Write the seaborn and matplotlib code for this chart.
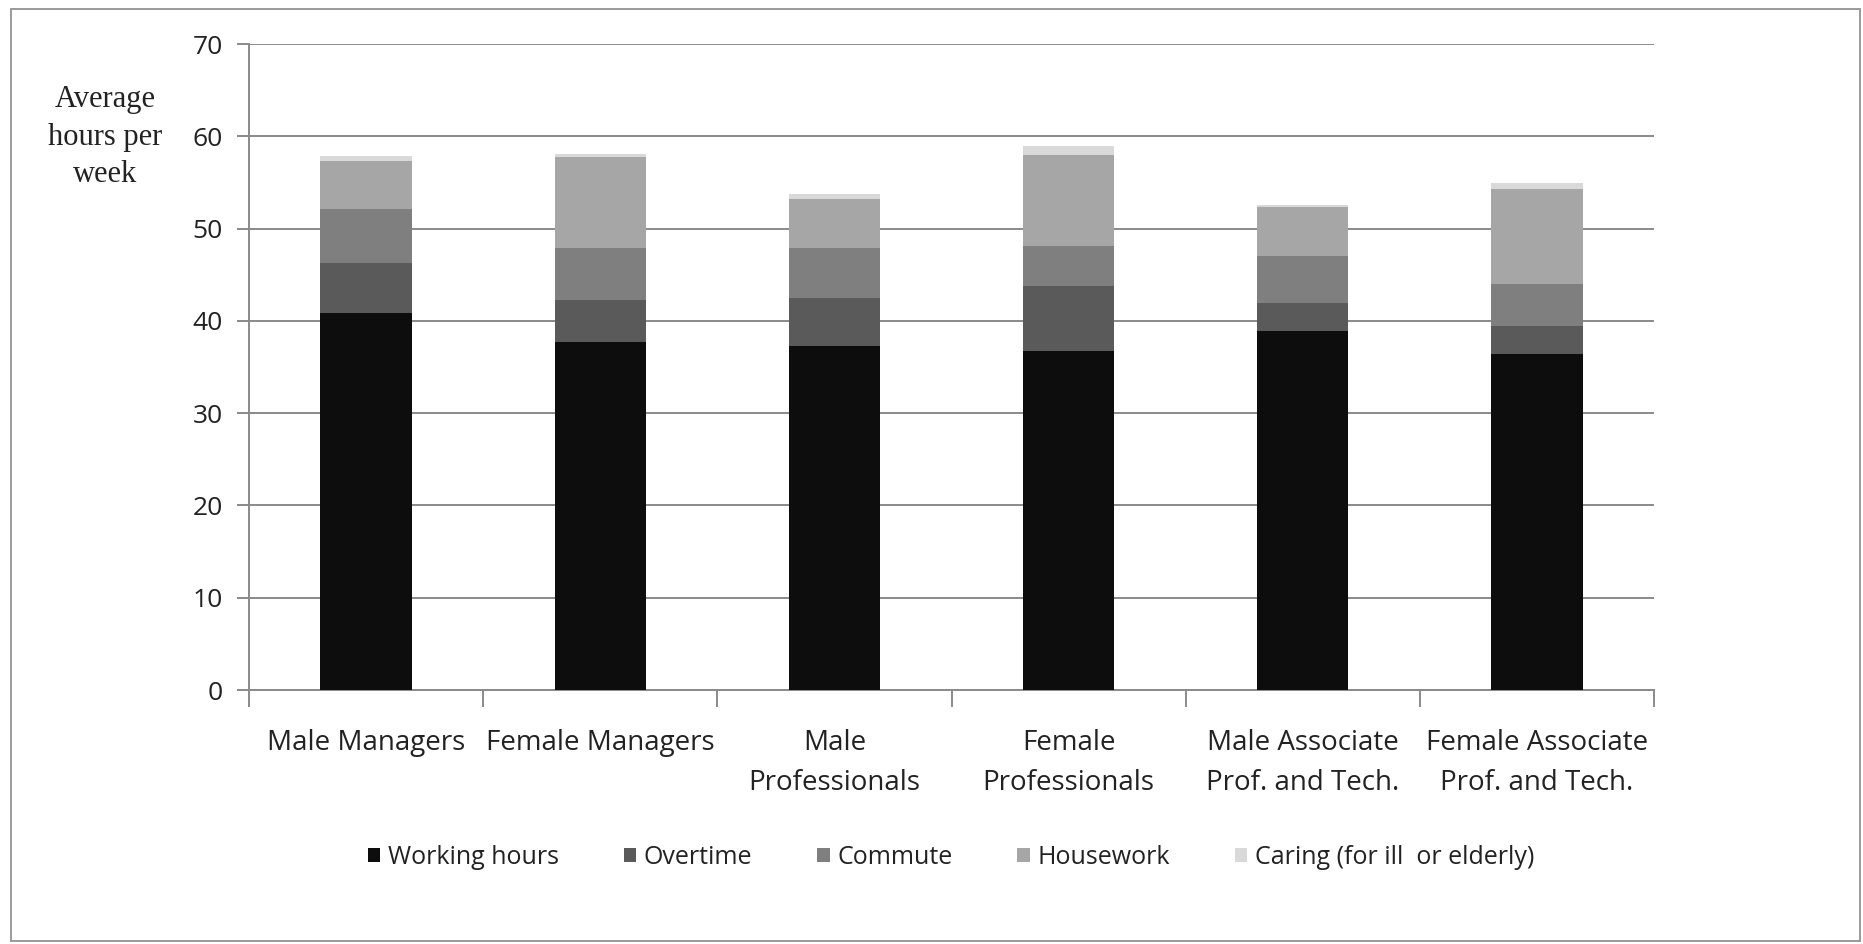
import numpy as np
import pandas as pd
import seaborn as sns
import matplotlib
matplotlib.use("Agg")
import matplotlib.pyplot as plt
from matplotlib.patches import Rectangle, Patch
from matplotlib.ticker import FixedLocator

categories = ["Male Managers", "Female Managers", "Male\nProfessionals",
              "Female\nProfessionals", "Male Associate\nProf. and Tech.",
              "Female Associate\nProf. and Tech."]
series_names = ["Working hours", "Overtime", "Commute", "Housework",
                "Caring (for ill  or elderly)"]
working = [40.8, 37.7, 37.3, 36.7, 38.9, 36.4]
overtime = [5.5, 4.6, 5.2, 7.1, 3.0, 3.0]
commute = [5.8, 5.6, 5.4, 4.3, 5.1, 4.6]
housework = [5.2, 9.9, 5.3, 9.9, 5.3, 10.3]
caring = [0.6, 0.3, 0.6, 1.0, 0.3, 0.6]
yticks = [0, 10, 20, 30, 40, 50, 60, 70]
ylabel = "Average\nhours per\nweek"

colors = ["#0d0d0d", "#5a5a5a", "#7f7f7f", "#a6a6a6", "#d9d9d9"]

sns.set_theme(style="white")
plt.rcParams["font.family"] = ["Open Sans", "DejaVu Sans"]

W, H = 1863, 944
fig = plt.figure(figsize=(W / 100, H / 100), dpi=100)
ax = fig.add_axes([249 / W, 1 - 690 / H, (1654 - 249) / W, (690 - 44) / H])

series = [working, overtime, commute, housework, caring]
cum = np.zeros(len(categories))
cums = []
for s in series:
    cum = cum + np.array(s)
    cums.append(cum.copy())

# draw cumulative layers from the top down
for i in range(len(series) - 1, -1, -1):
    d = pd.DataFrame({"category": categories, "value": cums[i]})
    sns.barplot(data=d, x="category", y="value", color=colors[i],
                width=0.39, saturation=1, ax=ax, errorbar=None,
                order=categories, linewidth=0, zorder=3)

grid_col = "#8a8a8a"
ax.set_ylim(0, 70)
ax.set_xlim(-0.5, len(categories) - 0.5)
ax.set_yticks(yticks)
ax.yaxis.grid(True, color=grid_col, linewidth=1.4, zorder=0)
ax.xaxis.grid(False)
for sp in ["top", "right"]:
    ax.spines[sp].set_visible(False)
for sp in ["left", "bottom"]:
    ax.spines[sp].set_color(grid_col)
    ax.spines[sp].set_linewidth(1.4)

ax.set_xlabel("")
ax.set_ylabel("")
ax.tick_params(axis="y", which="major", left=True, length=9, width=1.4,
               color=grid_col, labelsize=19, pad=10, labelcolor="#222222")
ax.tick_params(axis="x", which="major", bottom=False, length=0,
               labelsize=20, pad=28, labelcolor="#222222")
ax.xaxis.set_minor_locator(FixedLocator(np.arange(-0.5, len(categories), 1.0)))
ax.tick_params(axis="x", which="minor", bottom=True, length=12, width=1.4,
               color=grid_col)
for lab in ax.get_xticklabels():
    lab.set_linespacing(1.57)

fig.text(105 / W, 1 - 137 / H, ylabel, ha="center", va="center",
         family=["Liberation Serif", "DejaVu Serif"], fontsize=22,
         linespacing=1.40, color="#222222")

handles = [Patch(facecolor=c, edgecolor="none") for c in colors]
fig.legend(handles, series_names, loc="center",
           bbox_to_anchor=(951 / W, 1 - 857 / H), ncol=5, frameon=False,
           fontsize=18, handlelength=0.5, handleheight=0.5,
           handletextpad=0.3, columnspacing=2.6, labelcolor="#222222")

fig.patches.append(Rectangle((11 / W, 3 / H), (1860 - 11) / W, (935 - 3) / H,
                             transform=fig.transFigure, fill=False,
                             edgecolor="#9a9a9a", linewidth=1.4))

fig.savefig("out.png", dpi=100)
